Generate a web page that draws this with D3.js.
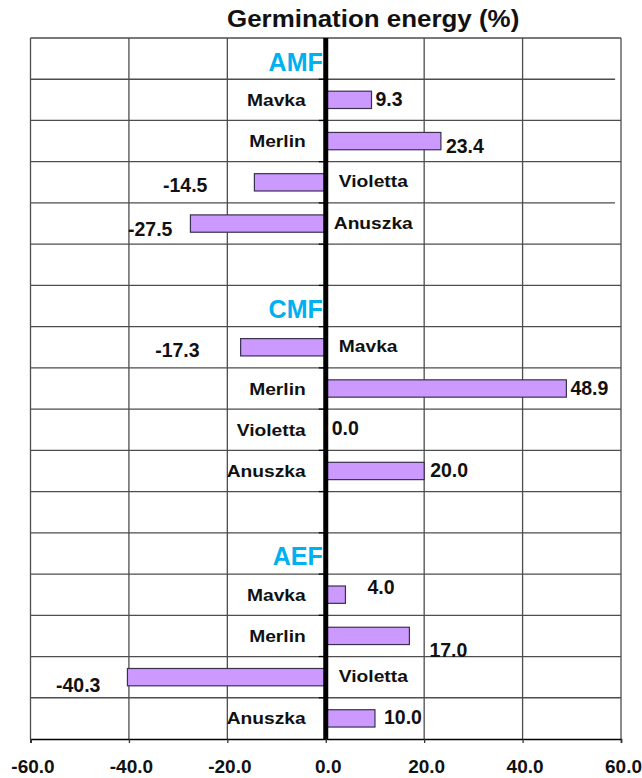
<!DOCTYPE html>
<html>
<head>
<meta charset="utf-8">
<script src="https://cdn.jsdelivr.net/npm/d3@7"></script>
<style>
  body { margin: 0; background: #fff; }
  text { font-family: "Liberation Sans", Arial, sans-serif; font-weight: bold; }
</style>
</head>
<body>
<div id="chart"></div>
<script>
// data
var groups = ["AMF", "CMF", "AEF"];
var cultivars = ["Mavka", "Merlin", "Violetta", "Anuszka"];
var amfValues = [9.3, 23.4, -14.5, -27.5];
var cmfValues = [-17.3, 48.9, 0.0, 20.0];
var aefValues = [4.0, 17.0, -40.3, 10.0];
var xTicks = [-60, -40, -20, 0, 20, 40, 60];
var titleText = "Germination energy (%)";

var width = 642, height = 778;
var margin = { top: 38, right: 21, bottom: 39, left: 31 };

var svg = d3.select("#chart").append("svg")
    .attr("width", width)
    .attr("height", height);

svg.append("rect").attr("width", width).attr("height", height).attr("fill", "#fff");

// build the 17 rows: group header, 4 cultivars, blank spacer
var groupValues = [amfValues, cmfValues, aefValues];
var rows = [];
groups.forEach(function(g, gi) {
    if (gi > 0) rows.push({ id: "blank" + gi, type: "blank" });
    rows.push({ id: g, type: "group", label: g });
    cultivars.forEach(function(c, ci) {
        rows.push({ id: g + "-" + c, type: "bar", label: c, value: groupValues[gi][ci] });
    });
});

var x = d3.scaleLinear().domain([-60, 60]).range([margin.left - 0.5, width - margin.right]);
var y = d3.scaleBand().domain(rows.map(function(d) { return d.id; }))
    .range([margin.top, height - margin.bottom]);

var x0 = x(0);
var band = y.bandwidth();
var barH = band * 0.42;

// plain hyphen minus, like the original
var fmt = function(v) { return d3.format(".1f")(v).replace("\u2212", "-"); };

// value label nudges (dx from bar end, dy from row centre), in bar order
var labelShift = [
    [4, 6], [5, 12], [-47, 10], [-18, 12.5],
    [-41, 10], [4, 6], [6, 5], [6, 6],
    [22, -1], [20, 21], [-27, 15], [9, 6]
];

var grid = svg.append("g");

// horizontal grid lines at row boundaries
d3.range(1, rows.length).forEach(function(k) {
    var yy = margin.top + k * band;
    var short = (k === 1 || k === 4);
    grid.append("line")
        .attr("x1", x(-60)).attr("x2", short ? x(58.8) : x(60))
        .attr("y1", yy).attr("y2", yy)
        .attr("stroke", "#4d4d4d").attr("stroke-width", 1.3);
    // category axis tick
    grid.append("line")
        .attr("x1", x0 - 7).attr("x2", x0)
        .attr("y1", yy).attr("y2", yy)
        .attr("stroke", "#000").attr("stroke-width", 1.3);
});

// vertical grid lines
xTicks.forEach(function(t) {
    if (t === 0) return;
    grid.append("line")
        .attr("x1", x(t)).attr("x2", x(t))
        .attr("y1", margin.top).attr("y2", height - margin.bottom)
        .attr("stroke", "#4d4d4d").attr("stroke-width", 1.3);
});

// top border
grid.append("line")
    .attr("x1", x(-60)).attr("x2", x(60))
    .attr("y1", margin.top).attr("y2", margin.top)
    .attr("stroke", "#4d4d4d").attr("stroke-width", 1.3);

// x axis
var xAxis = d3.axisBottom(x)
    .tickValues(xTicks)
    .tickSize(4)
    .tickFormat(fmt);

var axisG = svg.append("g")
    .attr("transform", "translate(0," + (height - margin.bottom) + ")")
    .call(xAxis);

axisG.select(".domain").attr("stroke", "#000").attr("stroke-width", 1.5);
axisG.selectAll(".tick line").attr("stroke", "#333").attr("stroke-width", 1.3);
axisG.selectAll(".tick text")
    .attr("y", 34)
    .attr("dy", 0)
    .attr("dx", 2)
    .attr("fill", "#111")
    .style("font-family", "'Liberation Sans', Arial, sans-serif")
    .style("font-weight", "bold")
    .style("font-size", "19px");

// bars
var barRows = rows.filter(function(d) { return d.type === "bar"; });

svg.append("g").selectAll("rect")
    .data(barRows)
    .enter().append("rect")
    .attr("x", function(d) { return Math.min(x(d.value), x0); })
    .attr("width", function(d) { return Math.abs(x(d.value) - x0); })
    .attr("y", function(d) { return y(d.id) + band / 2 - barH / 2; })
    .attr("height", barH)
    .attr("fill", "#cc99ff")
    .attr("stroke", "#3a3050")
    .attr("stroke-width", 1.2);

// zero line
svg.append("line")
    .attr("x1", x0).attr("x2", x0)
    .attr("y1", margin.top).attr("y2", height - margin.bottom)
    .attr("stroke", "#000").attr("stroke-width", 5);

// helper: text stretched horizontally around its anchor
function label(g, tx, ty, str, size, sx, anchor, color) {
    return g.append("text")
        .attr("transform", "translate(" + tx + "," + ty + ") scale(" + sx + ",1)")
        .attr("text-anchor", anchor)
        .attr("fill", color || "#111")
        .style("font-size", size + "px")
        .text(str);
}

var labels = svg.append("g");

// cultivar names, on the opposite side of the bar
barRows.forEach(function(d, i) {
    var cy = y(d.id) + band / 2;
    if (d.value < 0) {
        label(labels, x0 + (i === 3 ? 8 : 13), cy + 5, d.label, 16.3, 1.18, "start");
    } else {
        label(labels, x0 - 20, cy + 6, d.label, 16.3, 1.18, "end");
    }
});

// value labels
barRows.forEach(function(d, i) {
    var cy = y(d.id) + band / 2;
    var s = labelShift[i];
    label(labels, x(d.value) + s[0], cy + s[1], fmt(d.value), 19.5, 1,
        d.value < 0 ? "end" : "start");
});

// group headers
rows.filter(function(d) { return d.type === "group"; }).forEach(function(d) {
    var cy = y(d.id) + band / 2;
    label(labels, x0 - 3, cy + 12, d.label, 25, 1, "end", "#00b0f0");
});

// title
label(svg, 227, 27, titleText, 24, 1.08, "start", "#111");
</script>
</body>
</html>
